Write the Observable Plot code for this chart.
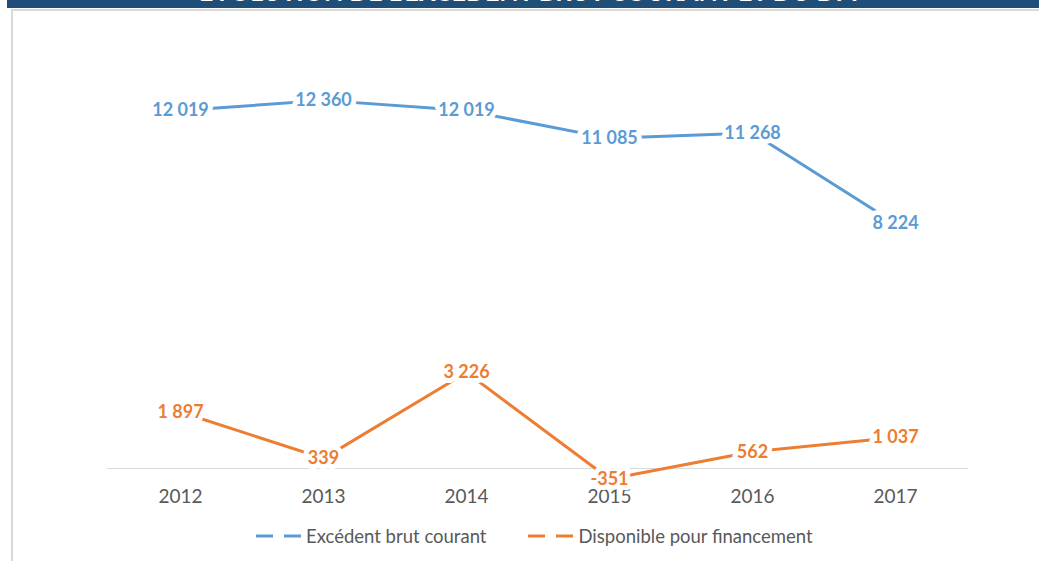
<!DOCTYPE html>
<html>
<head>
<meta charset="utf-8">
<script src="https://cdn.jsdelivr.net/npm/d3@7"></script>
<script src="https://cdn.jsdelivr.net/npm/@observablehq/plot@0.6"></script>
<style>
  html, body { margin: 0; padding: 0; background: #fff; }
  body { width: 1039px; height: 561px; position: relative; overflow: hidden; font-family: Lato, "Open Sans", sans-serif; }
  #titlebar { position: absolute; left: 7px; top: 0; width: 1032px; height: 8px; background: #1f4e79; overflow: hidden; }
  #titlebar span { position: absolute; left: 0; width: 1050px; top: -19px; line-height: 20px; font-size: 25px; font-weight: bold; color: #fff; text-align: center; white-space: nowrap; }
  #border { position: absolute; left: 11px; top: 9px; width: 1040px; height: 600px; border-left: 2px solid #d9d9d9; border-top: 2px solid #d9d9d9; }
  #chart { position: absolute; left: 0; top: 0; }
  #legend { position: absolute; left: 256px; top: 525px; display: flex; align-items: center; font-size: 18.5px; color: #595959; }
  .item { display: flex; align-items: center; }
  .item svg { display: block; margin-right: 2px; }
</style>
</head>
<body>
<div id="titlebar"><span>ÉVOLUTION DE L'EXCÉDENT BRUT COURANT ET DU DPF</span></div>
<div id="border"></div>
<div id="chart"></div>
<div id="legend"></div>
<script>
const years = ["2012", "2013", "2014", "2015", "2016", "2017"];
const ebc = [12019, 12360, 12019, 11085, 11268, 8224];
const dpf = [1897, 339, 3226, -351, 562, 1037];
const seriesNames = ["Excédent brut courant", "Disponible pour financement"];
const seriesColors = ["#5B9BD5", "#ED7D31"];

const rows = [];
years.forEach((y, i) => {
  rows.push({year: y, value: ebc[i], series: seriesNames[0]});
  rows.push({year: y, value: dpf[i], series: seriesNames[1]});
});

const fr = d3.formatLocale({decimal: ",", thousands: " ", grouping: [3], currency: ["", " €"], minus: "-"});
const fmt = fr.format(",d");

const chart = Plot.plot({
  width: 1039,
  height: 515,
  marginLeft: 107,
  marginRight: 71,
  marginTop: 10,
  marginBottom: 47,
  style: {fontFamily: "Lato, 'Open Sans', sans-serif", background: "transparent", color: "#595959"},
  x: {type: "point", domain: years, range: [179, 896], padding: 0},
  y: {domain: [0, 12000], range: [468, 110.6], axis: null},
  color: {domain: seriesNames, range: seriesColors},
  marks: [
    Plot.ruleY([0], {stroke: "#d9d9d9", strokeWidth: 1}),
    Plot.axisX({tickSize: 0, tickPadding: 21, fontSize: 19, fill: "#595959", label: null}),
    Plot.line(rows, {x: "year", y: "value", z: "series", stroke: "series", strokeWidth: 3, curve: "linear"}),
    Plot.text(rows, {x: "year", y: "value", text: d => fmt(d.value), fill: "series", fontSize: 18, fontWeight: "bold", stroke: "white", strokeWidth: 10, strokeLinejoin: "round"})
  ]
});
document.getElementById("chart").appendChild(chart);

const legend = document.getElementById("legend");
seriesNames.forEach((name, i) => {
  const item = document.createElement("div");
  item.className = "item";
  if (i > 0) item.style.marginLeft = "42px";
  item.innerHTML = `<svg width="48" height="4"><line x1="0" x2="48" y1="2" y2="2" stroke="${seriesColors[i]}" stroke-width="3" stroke-dasharray="17 11"/></svg><span>${name}</span>`;
  legend.appendChild(item);
});
</script>
</body>
</html>
